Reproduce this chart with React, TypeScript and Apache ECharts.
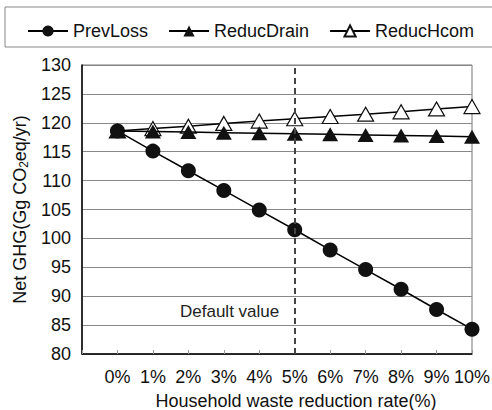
import React, { useEffect, useRef } from "react";
import * as echarts from "echarts";

const rates = [0, 1, 2, 3, 4, 5, 6, 7, 8, 9, 10];
const prevLoss = [118.6, 115.1, 111.7, 108.3, 104.9, 101.5, 98.0, 94.6, 91.2, 87.7, 84.3];
const reducDrain = [118.6, 118.5, 118.4, 118.3, 118.2, 118.1, 118.0, 117.9, 117.8, 117.7, 117.6];
const reducHcom = [118.6, 119.0, 119.4, 119.9, 120.3, 120.7, 121.1, 121.5, 121.9, 122.4, 122.8];
const seriesNames = ["PrevLoss", "ReducDrain", "ReducHcom"];
const yTicks = { min: 80, max: 130, interval: 5 };
const defaultRate = 5;

const FONT = "Liberation Sans, Arial, Helvetica, sans-serif";

export default function App() {
  const ref = useRef<HTMLDivElement>(null);
  useEffect(() => {
    if (!ref.current) return;
    const chart = echarts.init(ref.current, undefined, { renderer: "svg" });
    const toPairs = (arr: number[]) => rates.map((r, i) => [r, arr[i]]);
    const lineStyle = { color: "#000", width: 1.5 };
    chart.setOption({
      animation: false,
      textStyle: { fontFamily: FONT },
      graphic: [
        {
          type: "rect",
          shape: { x: 5, y: 7, width: 495, height: 40 },
          style: { fill: "none", stroke: "#888", lineWidth: 1 },
          z: 0,
        },
        {
          type: "text",
          x: 180,
          y: 303,
          style: { text: "Default value", font: `17px ${FONT}`, fill: "#222" },
          z: 10,
        },
      ],
      legend: {
        top: 17,
        left: 22,
        itemGap: 20,
        itemWidth: 40,
        itemHeight: 14,
        textStyle: { fontSize: 18, color: "#111", fontFamily: FONT },
        data: seriesNames,
      },
      grid: {
        left: 82,
        right: 20,
        top: 65,
        bottom: 56,
        show: true,
        borderColor: "#777",
        borderWidth: 1,
        containLabel: false,
        outerBoundsMode: "none",
      },
      xAxis: {
        type: "value",
        min: -1,
        max: 10,
        interval: 1,
        name: "Household waste reduction rate(%)",
        nameLocation: "middle",
        nameGap: 38,
        nameTextStyle: { fontSize: 18, color: "#111", fontFamily: FONT, padding: [0, 0, 0, 38] },
        axisLine: { show: true, onZero: false, lineStyle: { color: "#000", width: 1.5 } },
        axisTick: { show: true, inside: true, length: 4, lineStyle: { color: "#999" } },
        axisLabel: {
          fontSize: 18,
          color: "#111",
          margin: 14,
          formatter: (v: number) => (v >= 0 ? `${v}%` : ""),
        },
        splitLine: { show: false },
      },
      yAxis: {
        type: "value",
        min: yTicks.min,
        max: yTicks.max,
        interval: yTicks.interval,
        name: "{a|Net GHG(Gg CO}{s|2}{a|eq/yr)}",
        nameLocation: "middle",
        nameGap: 52,
        nameTextStyle: {
          rich: {
            a: { fontSize: 18, color: "#111", fontFamily: FONT, lineHeight: 20 },
            s: { fontSize: 12, color: "#111", fontFamily: FONT, lineHeight: 20, padding: [9, 0, 0, 0] },
          },
        },
        axisLine: { show: true, onZero: false, lineStyle: { color: "#000", width: 1.5 } },
        axisTick: { show: false },
        axisLabel: { fontSize: 18, color: "#111", margin: 11 },
        splitLine: { show: true, lineStyle: { color: "#888", width: 1 } },
      },
      series: [
        {
          name: seriesNames[0],
          type: "line",
          data: toPairs(prevLoss),
          symbol: "circle",
          symbolSize: 15,
          itemStyle: { color: "#111" },
          lineStyle,
          z: 3,
          markLine: {
            silent: true,
            symbol: "none",
            label: { show: false },
            lineStyle: { color: "#444", type: [6, 4], width: 2 },
            data: [{ xAxis: defaultRate }],
          },
        },
        {
          name: seriesNames[1],
          type: "line",
          data: toPairs(reducDrain),
          symbol: "triangle",
          symbolSize: [16, 14],
          itemStyle: { color: "#111" },
          lineStyle,
          z: 4,
        },
        {
          name: seriesNames[2],
          type: "line",
          data: toPairs(reducHcom),
          symbol: "triangle",
          symbolSize: [16, 14],
          itemStyle: { color: "#fff", borderColor: "#111", borderWidth: 1.2 },
          lineStyle,
          z: 2,
        },
      ],
    });
    return () => chart.dispose();
  }, []);
  return <div ref={ref} style={{ width: 492, height: 410, position: "absolute", left: 0, top: 0 }} />;
}
